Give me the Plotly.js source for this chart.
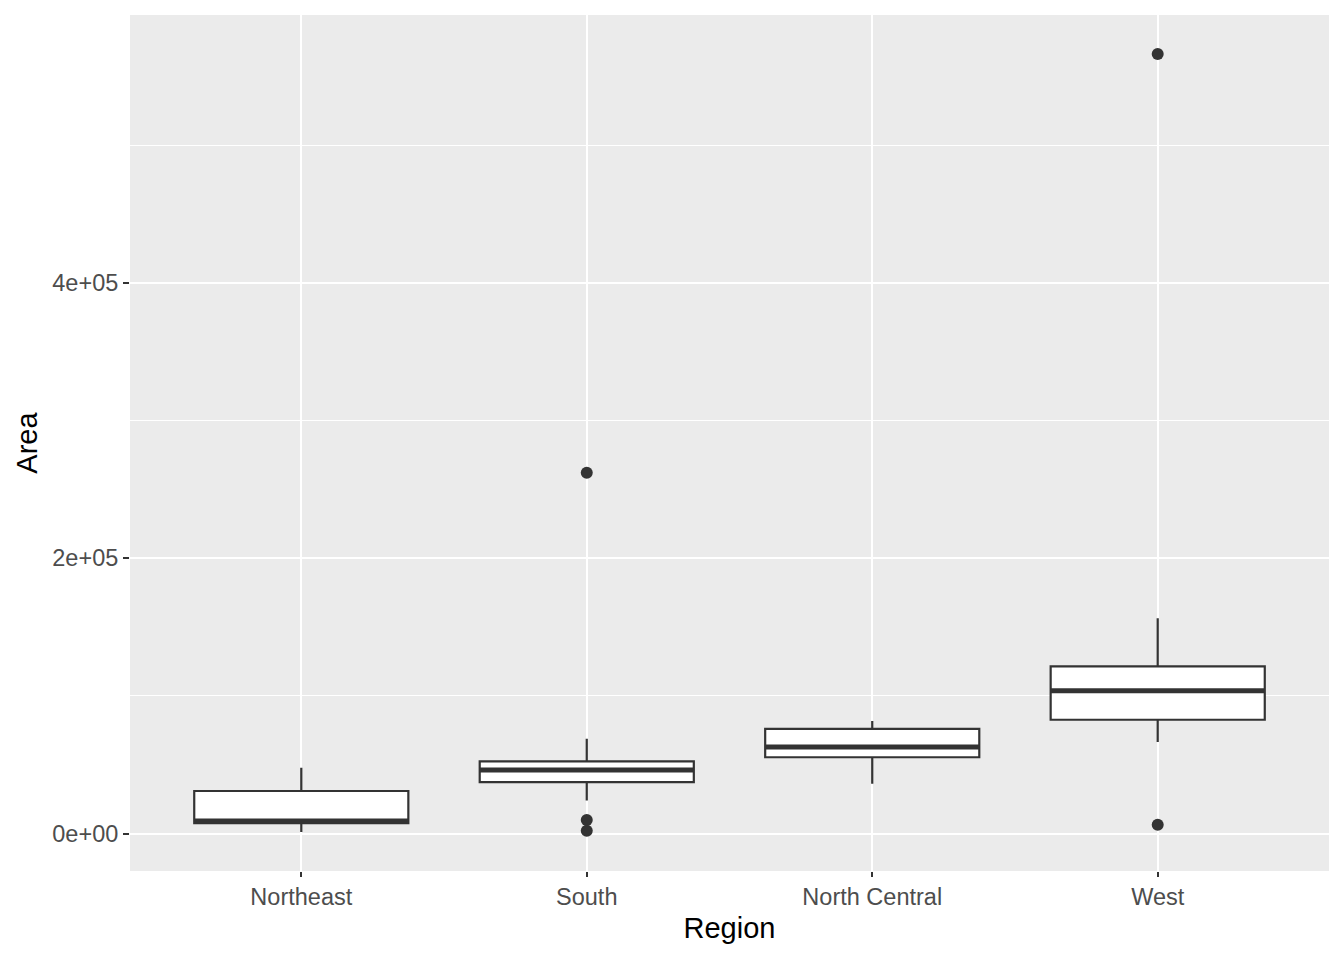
<!DOCTYPE html>
<html>
<head>
<meta charset="utf-8">
<script src="https://cdn.plot.ly/plotly-3.0.1.min.js"></script>
<style>html,body{margin:0;padding:0;background:#fff;}#chart{width:1344px;height:960px;}</style>
</head>
<body>
<div id="chart"></div>
<script>
// Area (sq. miles) of US states by region (state.x77)
const regions = ["Northeast", "South", "North Central", "West"];
const areaNortheast = [4862, 30920, 7826, 9027, 7521, 47831, 44966, 1049, 9267];
const areaSouth = [50708, 51945, 1982, 54090, 58073, 39650, 44930, 9891, 47296, 48798, 68782, 30225, 41328, 262134, 39780, 24070];
const areaNorthCentral = [55748, 36097, 55941, 81787, 56817, 79289, 68995, 76483, 69273, 40975, 75955, 54464];
const areaWest = [566432, 113417, 156361, 103766, 6425, 82677, 145587, 109889, 121412, 96184, 82096, 66570, 97203];
const yTickVals = [0, 200000, 400000];
const yTickText = ["0e+00", "2e+05", "4e+05"];
const yMinorVals = [100000, 300000, 500000];

const groups = [areaNortheast, areaSouth, areaNorthCentral, areaWest];

function quant(s, p) {
  const h = (s.length - 1) * p;
  const lo = Math.floor(h);
  const hi = Math.min(lo + 1, s.length - 1);
  return s[lo] + (h - lo) * (s[hi] - s[lo]);
}

const q1 = [], med = [], q3 = [], lf = [], uf = [];
const outX = [], outY = [];
groups.forEach((g, i) => {
  const s = g.slice().sort((a, b) => a - b);
  const a = quant(s, 0.25), m = quant(s, 0.5), b = quant(s, 0.75);
  const iqr = b - a;
  const inside = s.filter(v => v >= a - 1.5 * iqr && v <= b + 1.5 * iqr);
  q1.push(a); med.push(m); q3.push(b);
  lf.push(Math.min(...inside)); uf.push(Math.max(...inside));
  s.forEach(v => { if (v < a - 1.5 * iqr || v > b + 1.5 * iqr) { outX.push(regions[i]); outY.push(v); } });
});

const all = [].concat(...groups);
const mn = Math.min(...all), mx = Math.max(...all);
const pad = (mx - mn) * 0.05;

const boxTrace = {
  type: "box",
  x: regions,
  q1: q1, median: med, q3: q3, lowerfence: lf, upperfence: uf,
  boxpoints: false,
  width: 0.75,
  whiskerwidth: 0,
  fillcolor: "#FFFFFF",
  line: {color: "#333333", width: 2.2},
  hoverinfo: "y",
  showlegend: false
};

const outTrace = {
  type: "scatter",
  mode: "markers",
  x: outX, y: outY,
  marker: {color: "#333333", size: 12},
  showlegend: false
};

const shapes = med.map((m, i) => ({
  type: "line", xref: "x", yref: "y",
  x0: i - 0.375, x1: i + 0.375, y0: m, y1: m,
  line: {color: "#333333", width: 5}
}));

const layout = {
  width: 1344, height: 960,
  margin: {l: 130, r: 15, t: 15, b: 89},
  paper_bgcolor: "#FFFFFF",
  plot_bgcolor: "#EBEBEB",
  font: {family: "Liberation Sans, Arial, sans-serif"},
  showlegend: false,
  shapes: shapes,
  xaxis: {
    type: "category",
    categoryarray: regions, categoryorder: "array",
    range: [-0.6, 3.6],
    showgrid: true, gridcolor: "#FFFFFF", gridwidth: 2,
    zeroline: false, showline: false,
    ticks: "outside", ticklen: 5, tickwidth: 2, tickcolor: "#333333",
    tickfont: {size: 23.5, color: "#4D4D4D"},
    title: {text: "Region", font: {size: 29, color: "#000000"}, standoff: 8}
  },
  yaxis: {
    range: [mn - pad, mx + pad],
    tickvals: yTickVals, ticktext: yTickText,
    showgrid: true, gridcolor: "#FFFFFF", gridwidth: 2,
    zeroline: false, showline: false,
    ticks: "outside", ticklen: 6, tickwidth: 2, tickcolor: "#333333",
    tickfont: {size: 23.5, color: "#4D4D4D"},
    minor: {tickvals: yMinorVals, showgrid: true, gridcolor: "#FFFFFF", gridwidth: 1, ticks: ""},
    title: {text: "Area", font: {size: 29, color: "#000000"}, standoff: 6}
  }
};

Plotly.newPlot("chart", [boxTrace, outTrace], layout, {displayModeBar: false, staticPlot: true});
</script>
</body>
</html>
